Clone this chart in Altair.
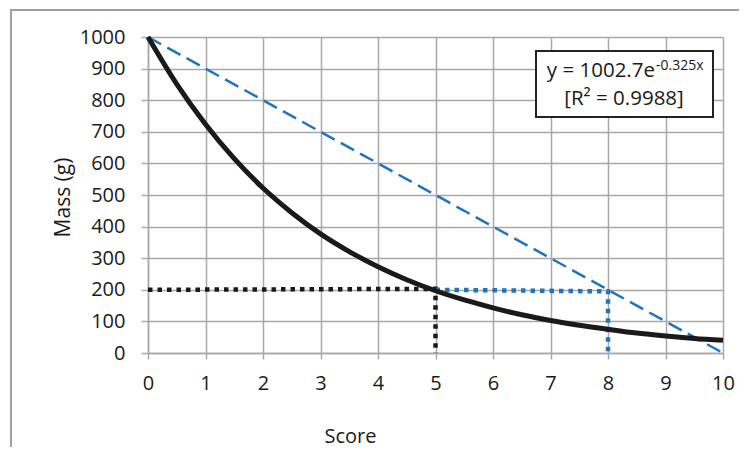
import altair as alt
import pandas as pd

# Fitted decay curve
score = [0, 0.5, 1, 1.5, 2, 2.5, 3, 3.5, 4, 4.5, 5, 5.5, 6, 6.5, 7, 7.5, 8, 8.5, 9, 9.5, 10]
mass = [1000, 851, 724, 615, 522, 444, 377, 321, 273, 232, 197, 168, 143, 121, 103, 88, 75, 63, 54, 46, 40]

# Linear reference line
lin_x = [0, 10]
lin_y = [1000, 0]

# Black dotted guide (score 5)
blk_x = [0, 5, 5]
blk_y = [200, 203, 0]

# Blue dotted guide (score 8)
blu_x = [5, 8, 8]
blu_y = [200, 195, 0]

x_ticks = list(range(0, 11))
y_ticks = list(range(0, 1001, 100))

eq_main = "y = 1002.7e"
eq_sup = "-0.325x"
eq_r2 = "[R\u00b2 = 0.9988]"

FONT = "Open Sans"
BLUE = "#1f74bd"
BLACK = "#1a1a1a"
GRID = "#a8a8a8"

curve_df = pd.DataFrame({"x": score, "y": mass})
lin_df = pd.DataFrame({"x": lin_x, "y": lin_y, "o": [0, 1]})
blk_df = pd.DataFrame({"x": blk_x, "y": blk_y, "o": [0, 1, 2]})
blu_df = pd.DataFrame({"x": blu_x, "y": blu_y, "o": [0, 1, 2]})
one = pd.DataFrame({"a": [0]})

xs = alt.Scale(domain=[0, 10], nice=False)
ys = alt.Scale(domain=[0, 1000], nice=False)

xax = alt.Axis(values=x_ticks, format="d", labelFlush=False, labelOverlap=False, labelAlign="center",
               title="Score", grid=True, gridColor=GRID, gridWidth=1.5,
               domainColor=GRID, domainWidth=1.5, tickColor=GRID, tickWidth=1.5, tickSize=6,
               labelFontSize=20, labelFont=FONT, labelColor=BLACK, labelPadding=14,
               titleFontSize=20, titleFont=FONT, titleFontWeight="normal", titleColor=BLACK,
               titleX=202, titleY=89, titleBaseline="alphabetic", titleAlign="center")
yax = alt.Axis(values=y_ticks, format="d", labelFlush=False, labelOverlap=False, labelSeparation=0,
               labelBaseline="middle",
               title="Mass (g)", grid=True, gridColor=GRID, gridWidth=1.5,
               domainColor=GRID, domainWidth=1.5, tickColor=GRID, tickWidth=1.5, tickSize=7,
               labelFontSize=20, labelFont=FONT, labelColor=BLACK, labelPadding=16,
               titleFontSize=21, titleFont=FONT, titleFontWeight="normal", titleColor=BLACK,
               titleX=-79, titleY=160, titleBaseline="alphabetic", titleAlign="center", titleAngle=-90)

X = alt.X("x:Q", scale=xs, axis=xax)
Y = alt.Y("y:Q", scale=ys, axis=yax)

lin = alt.Chart(lin_df).mark_line(color=BLUE, strokeWidth=2.5, strokeDash=[15, 7]).encode(
    x=X, y=Y, order="o:Q")
blk = alt.Chart(blk_df).mark_line(color=BLACK, strokeWidth=4.5, strokeDash=[4.5, 5]).encode(
    x=X, y=Y, order="o:Q")
blu = alt.Chart(blu_df).mark_line(color=BLUE, strokeWidth=4.5, strokeDash=[4.5, 5]).encode(
    x=X, y=Y, order="o:Q")
curve = alt.Chart(curve_df).mark_line(color=BLACK, strokeWidth=5, interpolate="monotone").encode(
    x=X, y=Y)

# Outer frame lines (top and left)
frame_left = alt.Chart(one).mark_rule(color="#a0a0a0", strokeWidth=2).encode(
    x=alt.value(-137), y=alt.value(-27), y2=alt.value(450))
frame_top = alt.Chart(one).mark_rule(color="#a0a0a0", strokeWidth=2).encode(
    x=alt.value(-138), x2=alt.value(620), y=alt.value(-27))

box = alt.Chart(one).mark_rect(fill="white", stroke="#222222", strokeWidth=2).encode(
    x=alt.value(388), x2=alt.value(565), y=alt.value(14), y2=alt.value(80))
t_main = alt.Chart(one).mark_text(text=eq_main, font=FONT, fontSize=20.5, color=BLACK,
                                  align="right", baseline="alphabetic").encode(
    x=alt.value(507), y=alt.value(40))
t_sup = alt.Chart(one).mark_text(text=eq_sup, font=FONT, fontSize=14, color=BLACK,
                                 align="left", baseline="alphabetic").encode(
    x=alt.value(508), y=alt.value(33))
t_r2 = alt.Chart(one).mark_text(text=eq_r2, font=FONT, fontSize=20.5, color=BLACK,
                                align="center", baseline="alphabetic").encode(
    x=alt.value(476), y=alt.value(68))

chart = alt.layer(lin, blk, blu, curve, frame_left, frame_top, box, t_main, t_sup, t_r2).properties(
    width=575, height=316,
    autosize=alt.AutoSizeParams(type="none"),
    padding={"left": 140, "top": 29, "right": 16, "bottom": 94},
    background="white",
).configure_view(stroke=None).configure_axis(labelOverlap=False, labelSeparation=0)

chart.save("out.html", embed_options={"renderer": "svg", "actions": False})
